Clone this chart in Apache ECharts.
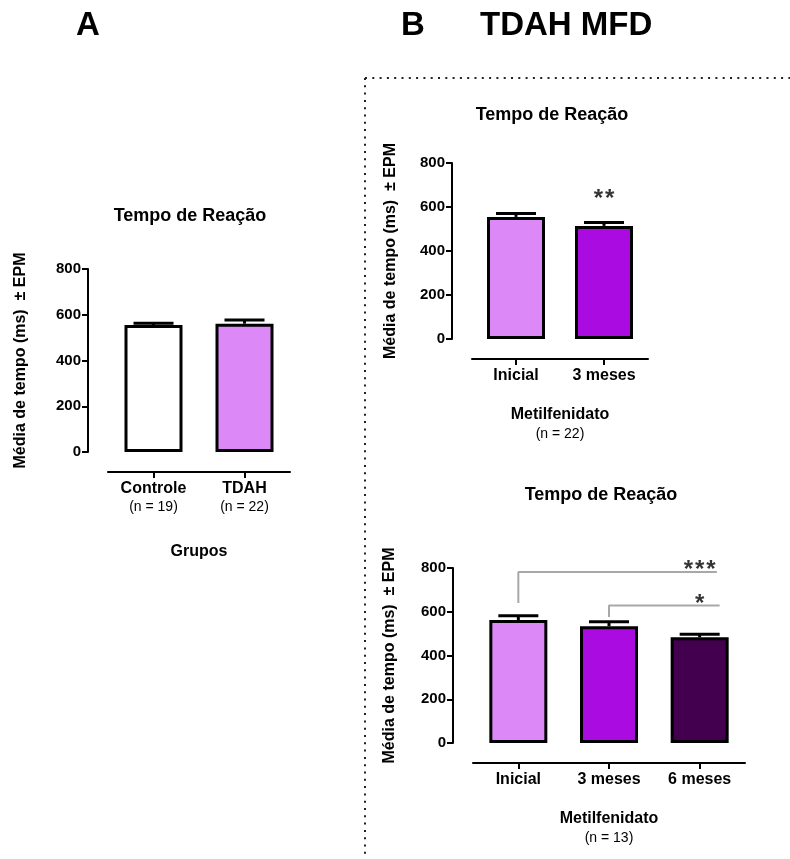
<!DOCTYPE html>
<html>
<head>
<meta charset="utf-8">
<script src="https://cdn.jsdelivr.net/npm/echarts@6/dist/echarts.min.js"></script>
<style>
  html, body { margin: 0; padding: 0; background: #fff; }
  #chart { width: 790px; height: 859px; }
</style>
</head>
<body>
<div id="chart"></div>
<script>
const FONT = '"Liberation Sans", Arial, Helvetica, sans-serif';

// Painel A: grupos
const gruposCats = ['Controle', 'TDAH'];
const gruposN = ['(n = 19)', '(n = 22)'];
const gruposMedia = [555, 561];
const gruposEpm = [8, 16];
const gruposCores = ['#ffffff', '#dd88f7'];

// Painel B (superior): metilfenidato, 3 meses
const mfd3Cats = ['Inicial', '3 meses'];
const mfd3Media = [555, 514];
const mfd3Epm = [16, 16];
const mfd3Cores = ['#dd88f7', '#a90be0'];
const mfd3N = '(n = 22)';
const mfd3Estrelas = [[1, 659, '**']];

// Painel B (inferior): metilfenidato, 6 meses
const mfd6Cats = ['Inicial', '3 meses', '6 meses'];
const mfd6Media = [562, 534, 483];
const mfd6Epm = [20, 20, 14];
const mfd6Cores = ['#dd88f7', '#a90be0', '#42004f'];
const mfd6N = '(n = 13)';
// colchetes de comparação (posição da categoria, valor no eixo y)
const colchete1 = [[0, 640], [0, 782], [2.19, 782]];
const colchete2 = [[1, 576], [1, 629], [2.22, 629]];
const mfd6Estrelas = [[2, 814, '***'], [2, 658, '*']];

const yName = 'Média de tempo (ms)  ± EPM';
const yTicks = { min: 0, max: 800, interval: 200 };

const chart = echarts.init(document.getElementById('chart'), null, { renderer: 'canvas' });

function eixoY(gridIndex, nameGap) {
  return {
    type: 'value', gridIndex, position: 'left', offset: 20,
    min: yTicks.min, max: yTicks.max, interval: yTicks.interval,
    axisLine: { show: true, onZero: false, lineStyle: { color: '#000', width: 2 } },
    axisTick: { show: true, length: 6, lineStyle: { color: '#000', width: 2 } },
    splitLine: { show: false },
    axisLabel: { color: '#000', fontWeight: 'bold', fontSize: 15, fontFamily: FONT, margin: 7 },
    name: yName, nameLocation: 'middle', nameRotate: 90, nameGap,
    nameTextStyle: { color: '#000', fontWeight: 'bold', fontSize: 16, fontFamily: FONT }
  };
}

function eixoX(gridIndex, cats, nLabels, nome, nomeN, nameGap) {
  return {
    type: 'category', gridIndex, data: cats, position: 'bottom', offset: 20,
    axisLine: { show: true, onZero: false, lineStyle: { color: '#000', width: 2 } },
    axisTick: { show: true, alignWithLabel: true, length: 6, lineStyle: { color: '#000', width: 2 } },
    axisLabel: {
      margin: 8, interval: 0,
      formatter: (v, i) => nLabels ? '{c|' + v + '}\n{n|' + nLabels[i] + '}' : '{c|' + v + '}',
      rich: {
        c: { color: '#000', fontWeight: 'bold', fontSize: 16, fontFamily: FONT, lineHeight: 18 },
        n: { color: '#000', fontSize: 14, fontFamily: FONT, lineHeight: 18 }
      }
    },
    name: nomeN ? '{c|' + nome + '}\n{n|' + nomeN + '}' : '{c|' + nome + '}',
    nameLocation: 'middle', nameGap,
    nameTextStyle: {
      rich: {
        c: { color: '#000', fontWeight: 'bold', fontSize: 16, fontFamily: FONT, lineHeight: 20 },
        n: { color: '#000', fontSize: 14, fontFamily: FONT, lineHeight: 18 }
      }
    }
  };
}

function barras(xi, yi, medias, cores) {
  return {
    type: 'bar', xAxisIndex: xi, yAxisIndex: yi, barWidth: 58,
    data: medias.map((v, i) => ({ value: v, itemStyle: { color: cores[i] } })),
    itemStyle: { borderColor: '#000', borderWidth: 3 },
    z: 2, silent: true
  };
}

// barra de erro superior (média + EPM) com traço horizontal
function barraErro(params, api) {
  const x = api.value(0), v = api.value(1), e = api.value(2);
  const base = api.coord([x, v]);
  const top = api.coord([x, v + e]);
  const st = { stroke: '#000', lineWidth: 3 };
  return {
    type: 'group', children: [
      { type: 'line', shape: { x1: base[0], y1: base[1], x2: top[0], y2: top[1] }, style: st },
      { type: 'line', shape: { x1: top[0] - 20, y1: top[1], x2: top[0] + 20, y2: top[1] }, style: st }
    ]
  };
}

function erros(xi, yi, medias, epm) {
  return {
    type: 'custom', xAxisIndex: xi, yAxisIndex: yi, renderItem: barraErro, z: 3, silent: true,
    encode: { x: 0, y: 1 },
    data: medias.map((v, i) => [i, v, epm[i]])
  };
}

function estrelas(xi, yi, pts, size) {
  return {
    type: 'scatter', xAxisIndex: xi, yAxisIndex: yi, symbolSize: 0, silent: true, z: 4, clip: false,
    data: pts.map(p => ({ value: [p[0], p[1]], label: { formatter: p[2].split('').join('\u200a') } })),
    label: { show: true, position: 'inside', color: '#000', fontWeight: 'bold', fontSize: size, fontFamily: FONT, offset: [0, 5] }
  };
}

function colchete(xi, yi, pts) {
  return {
    type: 'line', xAxisIndex: xi, yAxisIndex: yi, data: pts, symbol: 'none', silent: true, z: 1,
    lineStyle: { color: '#a8a8a8', width: 2 }
  };
}

const textStyleTitle = { fill: '#000', font: 'bold 18px ' + FONT, align: 'center', verticalAlign: 'middle' };
const dots = { stroke: '#222', lineWidth: 2, lineDash: [2, 5.3] };

const option = {
  animation: false,
  backgroundColor: '#fff',
  grid: [
    { left: 108, top: 269, width: 182, height: 183, containLabel: false },
    { left: 472, top: 163, width: 176, height: 176, containLabel: false },
    { left: 473, top: 568, width: 272, height: 175, containLabel: false }
  ],
  xAxis: [
    eixoX(0, gruposCats, gruposN, 'Grupos', null, 70),
    eixoX(1, mfd3Cats, null, 'Metilfenidato', mfd3N, 46),
    eixoX(2, mfd6Cats, null, 'Metilfenidato', mfd6N, 46),
    { type: 'value', gridIndex: 1, min: -0.5, max: 1.5, show: false },
    { type: 'value', gridIndex: 2, min: -0.5, max: 2.5, show: false }
  ],
  yAxis: [eixoY(0, 59), eixoY(1, 53), eixoY(2, 55)],
  series: [
    barras(0, 0, gruposMedia, gruposCores),
    erros(0, 0, gruposMedia, gruposEpm),
    barras(1, 1, mfd3Media, mfd3Cores),
    erros(1, 1, mfd3Media, mfd3Epm),
    estrelas(3, 1, mfd3Estrelas, 24),
    barras(2, 2, mfd6Media, mfd6Cores),
    erros(2, 2, mfd6Media, mfd6Epm),
    colchete(4, 2, colchete1),
    colchete(4, 2, colchete2),
    estrelas(4, 2, mfd6Estrelas, 24)
  ],
  graphic: [
    { type: 'text', style: { text: 'A', x: 88, y: 26, fill: '#000', font: 'bold 33px ' + FONT, align: 'center', verticalAlign: 'middle' } },
    { type: 'text', style: { text: 'B', x: 413, y: 26, fill: '#000', font: 'bold 33px ' + FONT, align: 'center', verticalAlign: 'middle' } },
    { type: 'text', style: { text: 'TDAH MFD', x: 480, y: 26, fill: '#000', font: 'bold 33px ' + FONT, align: 'left', verticalAlign: 'middle' } },
    { type: 'text', style: Object.assign({ text: 'Tempo de Reação', x: 190, y: 216 }, textStyleTitle) },
    { type: 'text', style: Object.assign({ text: 'Tempo de Reação', x: 552, y: 115 }, textStyleTitle) },
    { type: 'text', style: Object.assign({ text: 'Tempo de Reação', x: 601, y: 495 }, textStyleTitle) },
    { type: 'line', shape: { x1: 365, y1: 78, x2: 790, y2: 78 }, style: dots },
    { type: 'line', shape: { x1: 365, y1: 78, x2: 365, y2: 859 }, style: dots }
  ]
};

chart.setOption(option);
</script>
</body>
</html>
